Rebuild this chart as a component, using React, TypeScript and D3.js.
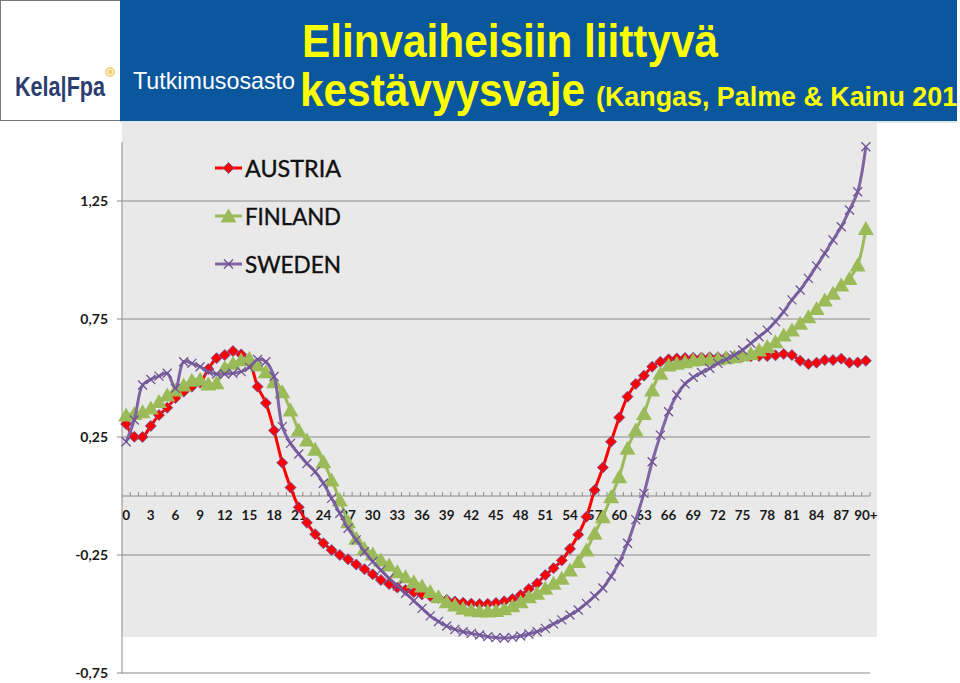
import React, { useEffect } from "react";
import * as d3 from "d3";

const AGES: string[] = d3.range(91).map((i) => (i === 90 ? "90+" : String(i)));

const AUSTRIA = [
  0.305, 0.251, 0.25, 0.297, 0.343, 0.374, 0.415, 0.442, 0.463, 0.48,
  0.538, 0.584, 0.597, 0.614, 0.6, 0.569, 0.463, 0.394, 0.278, 0.141,
  0.036, -0.048, -0.113, -0.162, -0.2, -0.229, -0.25, -0.268, -0.29, -0.31,
  -0.332, -0.356, -0.373, -0.388, -0.398, -0.408, -0.417, -0.424, -0.432, -0.44,
  -0.447, -0.452, -0.456, -0.458, -0.457, -0.453, -0.446, -0.436, -0.42, -0.394,
  -0.37, -0.335, -0.306, -0.273, -0.224, -0.164, -0.088, 0.025, 0.121, 0.23,
  0.333, 0.421, 0.475, 0.51, 0.548, 0.569, 0.579, 0.583, 0.585, 0.586,
  0.587, 0.588, 0.588, 0.589, 0.59, 0.591, 0.592, 0.593, 0.593, 0.596,
  0.602, 0.597, 0.573, 0.559, 0.565, 0.576, 0.576, 0.582, 0.565, 0.566,
  0.573,
];

const FINLAND = [
  0.343, 0.35, 0.357, 0.373, 0.4, 0.428, 0.449, 0.47, 0.49, 0.495,
  0.475, 0.48, 0.545, 0.562, 0.577, 0.584, 0.555, 0.527, 0.484, 0.442,
  0.364, 0.28, 0.237, 0.198, 0.145, 0.068, -0.017, -0.109, -0.179, -0.222,
  -0.246, -0.271, -0.292, -0.321, -0.342, -0.363, -0.381, -0.405, -0.427, -0.448,
  -0.462, -0.476, -0.483, -0.486, -0.487, -0.485, -0.478, -0.465, -0.448, -0.427,
  -0.412, -0.391, -0.37, -0.349, -0.314, -0.278, -0.229, -0.158, -0.088, -0.003,
  0.082, 0.202, 0.28, 0.35, 0.449, 0.52, 0.555, 0.562, 0.569, 0.576,
  0.579, 0.579, 0.582, 0.586, 0.59, 0.597, 0.604, 0.619, 0.633, 0.654,
  0.682, 0.703, 0.732, 0.76, 0.795, 0.83, 0.859, 0.894, 0.922, 0.979,
  1.134,
];

const SWEDEN = [
  0.23, 0.322, 0.47, 0.494, 0.508, 0.52, 0.456, 0.569, 0.562, 0.548,
  0.527, 0.517, 0.517, 0.52, 0.527, 0.545, 0.579, 0.569, 0.506, 0.294,
  0.223, 0.178, 0.138, 0.103, 0.054, -0.01, -0.073, -0.137, -0.186, -0.236,
  -0.278, -0.314, -0.349, -0.381, -0.412, -0.444, -0.476, -0.508, -0.532, -0.551,
  -0.565, -0.575, -0.582, -0.589, -0.596, -0.6, -0.602, -0.599, -0.593, -0.585,
  -0.575, -0.561, -0.542, -0.525, -0.504, -0.483, -0.455, -0.424, -0.39, -0.34,
  -0.28, -0.2, -0.1, 0.011, 0.145, 0.258, 0.357, 0.428, 0.475, 0.503,
  0.523, 0.541, 0.562, 0.579, 0.597, 0.619, 0.647, 0.675, 0.703, 0.739,
  0.781, 0.831, 0.873, 0.922, 0.975, 1.028, 1.085, 1.141, 1.212, 1.289,
  1.48,
];

const Y_TICKS = [-0.75, -0.25, 0.25, 0.75, 1.25];
const X_LABEL_EVERY = 3;

const SERIES_NAMES = ["AUSTRIA", "FINLAND", "SWEDEN"];
const SERIES_COLORS = ["#ff0000", "#9bbb59", "#8064a2"];

const W = 960;
const H = 683;

const DIAMOND = "M0,-5.5L5.5,0L0,5.5L-5.5,0Z";
const TRIANGLE = "M0,-7.5L8,6.5L-8,6.5Z";
const XMARK = "M-4.5,-4.5L4.5,4.5M-4.5,4.5L4.5,-4.5";

function Marker({ kind, x, y }: { kind: number; x: number; y: number }) {
  if (kind === 0)
    return (
      <path d={DIAMOND} transform={`translate(${x},${y})`} fill="#ff0000" stroke="#6a5aa8" strokeWidth={0.9} />
    );
  if (kind === 1)
    return <path d={TRIANGLE} transform={`translate(${x},${y})`} fill="#9bbb59" />;
  return (
    <path d={XMARK} transform={`translate(${x},${y})`} fill="none" stroke="#6f5496" strokeWidth={1.3} />
  );
}

export default function App() {
  useEffect(() => {
    document.body.style.margin = "0";
  }, []);

  const plotLeft = 122;
  const plotRight = 870;
  const x = d3.scaleBand<string>().domain(AGES).range([plotLeft, plotRight]);
  const bw = x.bandwidth();
  const cx = (a: string) => (x(a) as number) + bw / 2;
  const y = d3.scaleLinear().domain([-0.75, 1.5]).range([673, 142]);
  const fmt = (v: number) => String(v).replace(".", ",");

  const line = d3
    .line<number>()
    .x((_, i) => cx(AGES[i]))
    .y((d) => y(d))
    .curve(d3.curveCatmullRom.alpha(0.5));

  const seriesData = [AUSTRIA, FINLAND, SWEDEN];
  const y0 = y(0);

  return (
    <svg
      width={W}
      height={H}
      style={{ position: "absolute", left: 0, top: 0, display: "block" }}
    >
      <rect x={0} y={0} width={W} height={H} fill="#ffffff" />

      {/* header */}
      <rect x={0.5} y={0.5} width={120} height={120} fill="#ffffff" stroke="#7a7a7a" strokeWidth={1} />
      <rect x={120} y={0} width={837} height={121} fill="#0b579e" />
      <rect x={120} y={121} width={837} height={2} fill="#dfe7ef" />
      <text
        x={15}
        y={96}
        fontFamily="'Liberation Sans', Arial, sans-serif"
        fontWeight="bold"
        fontSize={27}
        fill="#2b3c6e"
        textLength={90}
        lengthAdjust="spacingAndGlyphs"
      >
        Kela|Fpa
      </text>
      <circle cx={110} cy={72} r={5} fill="#f3d27a" />
      <circle cx={110} cy={72} r={3} fill="none" stroke="#ffffff" strokeWidth={0.8} />
      <text
        x={133}
        y={89}
        fontFamily="'Liberation Sans', Arial, sans-serif"
        fontSize={24}
        fill="#ffffff"
        textLength={162}
        lengthAdjust="spacingAndGlyphs"
      >
        Tutkimusosasto
      </text>
      <text
        x={302}
        y={57}
        fontFamily="'Liberation Sans Narrow', 'Liberation Sans', Arial, sans-serif"
        fontWeight="bold"
        fontSize={47}
        fill="#ffff00"
        textLength={416}
        lengthAdjust="spacingAndGlyphs"
      >
        Elinvaiheisiin liittyvä
      </text>
      <text
        x={300}
        y={106}
        fontFamily="'Liberation Sans Narrow', 'Liberation Sans', Arial, sans-serif"
        fontWeight="bold"
        fontSize={47}
        fill="#ffff00"
        textLength={285}
        lengthAdjust="spacingAndGlyphs"
      >
        kestävyysvaje
      </text>
      <text
        x={596}
        y={106}
        fontFamily="'Liberation Sans Narrow', 'Liberation Sans', Arial, sans-serif"
        fontWeight="bold"
        fontSize={27}
        fill="#ffff00"
        textLength={385}
        lengthAdjust="spacingAndGlyphs"
      >
        (Kangas, Palme &amp; Kainu 2014)
      </text>
      <rect x={957} y={0} width={3} height={123} fill="#ffffff" />

      {/* plot background */}
      <rect x={122} y={123} width={755} height={514} fill="#e9e9e9" />

      {/* gridlines */}
      {Y_TICKS.map((t) => (
        <line key={"g" + t} x1={117} x2={plotRight} y1={y(t)} y2={y(t)} stroke="#8a8a8a" strokeWidth={1} />
      ))}
      {/* y axis */}
      <line x1={plotLeft} x2={plotLeft} y1={y(1.5)} y2={y(-0.75)} stroke="#8a8a8a" strokeWidth={1} />
      {Y_TICKS.map((t) => (
        <text
          key={"yl" + t}
          x={108}
          y={y(t)}
          dy="0.35em"
          textAnchor="end"
          fontFamily="Lato, 'Open Sans', sans-serif"
          fontWeight="bold"
          fontSize={14}
          fill="#1a1a1a"
        >
          {fmt(t)}
        </text>
      ))}

      {/* x axis */}
      <line x1={plotLeft} x2={plotRight} y1={y0} y2={y0} stroke="#8a8a8a" strokeWidth={1} />
      {AGES.map((a) => (
        <line
          key={"xt" + a}
          x1={(x(a) as number) + bw}
          x2={(x(a) as number) + bw}
          y1={y0}
          y2={y0 - 4}
          stroke="#8a8a8a"
          strokeWidth={1}
        />
      ))}
      {AGES.filter((_, i) => i % X_LABEL_EVERY === 0).map((a) => (
        <text
          key={"xl" + a}
          x={cx(a)}
          y={y0 + 19}
          dy="0.35em"
          textAnchor="middle"
          fontFamily="Lato, 'Open Sans', sans-serif"
          fontWeight="bold"
          fontSize={13.5}
          fill="#1a1a1a"
        >
          {a}
        </text>
      ))}

      {/* series */}
      {seriesData.map((data, si) => (
        <g key={"s" + si}>
          <path d={line(data) || ""} fill="none" stroke={SERIES_COLORS[si]} strokeWidth={3} strokeLinejoin="round" />
          {data.map((v, i) => (
            <Marker key={i} kind={si} x={cx(AGES[i])} y={y(v)} />
          ))}
        </g>
      ))}

      {/* legend */}
      {SERIES_NAMES.map((name, si) => {
        const ly = 168 + si * 48;
        return (
          <g key={"lg" + name}>
            <line x1={215} x2={242} y1={ly} y2={ly} stroke={SERIES_COLORS[si]} strokeWidth={3} />
            <Marker kind={si} x={228.5} y={ly} />
            <text
              x={245}
              y={ly}
              dy="0.36em"
              fontFamily="Lato, 'Open Sans', sans-serif"
              fontSize={24}
              fill="#111111"
              stroke="#111111"
              strokeWidth={0.4}
              textLength={96}
              lengthAdjust="spacingAndGlyphs"
            >
              {name}
            </text>
          </g>
        );
      })}
    </svg>
  );
}
